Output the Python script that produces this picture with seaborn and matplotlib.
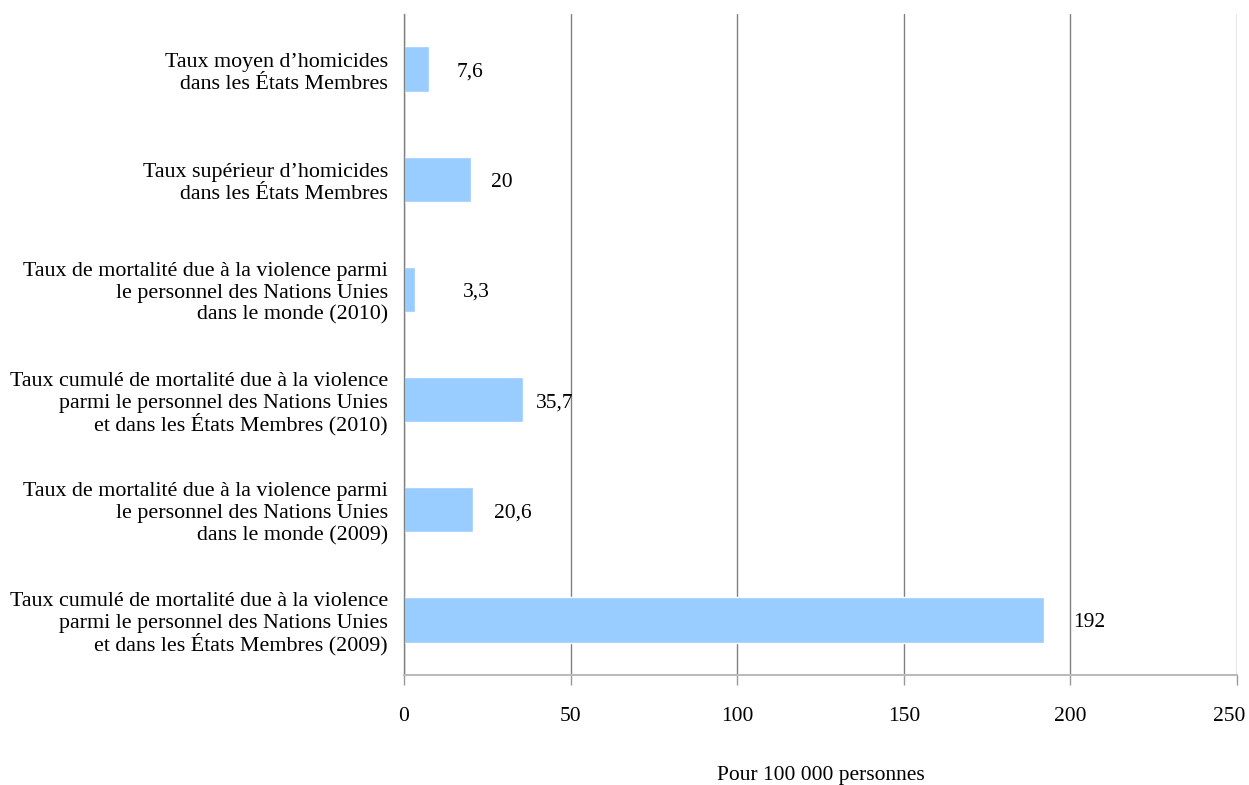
import matplotlib
matplotlib.use("Agg")
import matplotlib.pyplot as plt
import seaborn as sns
import pandas as pd
from matplotlib.transforms import offset_copy, ScaledTranslation

categories = [
    "Taux moyen d\u2019homicides\ndans les \u00c9tats Membres",
    "Taux sup\u00e9rieur d\u2019homicides\ndans les \u00c9tats Membres",
    "Taux de mortalit\u00e9 due \u00e0 la violence parmi\nle personnel des Nations Unies\ndans le monde (2010)",
    "Taux cumul\u00e9 de mortalit\u00e9 due \u00e0 la violence\nparmi le personnel des Nations Unies\net dans les \u00c9tats Membres (2010)",
    "Taux de mortalit\u00e9 due \u00e0 la violence parmi\nle personnel des Nations Unies\ndans le monde (2009)",
    "Taux cumul\u00e9 de mortalit\u00e9 due \u00e0 la violence\nparmi le personnel des Nations Unies\net dans les \u00c9tats Membres (2009)",
]
values = [7.6, 20, 3.3, 35.7, 20.6, 192]
value_labels = ["7,6", "20", "3,3", "35,7", "20,6", "192"]
x_ticks = [0, 50, 100, 150, 200, 250]
x_title = "Pour 100 000 personnes"

label_offsets_px = [27, 20, 48, 13, 21, 29]

sns.set_theme(style="white")
plt.rcParams["font.family"] = ["Liberation Serif", "DejaVu Serif"]
plt.rcParams["text.color"] = "black"
plt.rcParams["xtick.color"] = "black"
plt.rcParams["ytick.color"] = "black"
plt.rcParams["axes.labelcolor"] = "black"

FS = 15.5
PX = 0.72  # points per pixel at dpi 100

df = pd.DataFrame({"cat": categories, "val": values})

fig = plt.figure(figsize=(12.49, 7.85), dpi=100)
ax = fig.add_axes([404 / 1249, 1 - 675 / 785, (1237 - 404) / 1249, (675 - 14) / 785])

sns.barplot(data=df, y="cat", x="val", color="#99CCFF", saturation=1,
            width=0.41, ax=ax, orient="h")

ax.set_xlim(0, 250)
ax.set_ylim(5.5, -0.5)
ax.set_xticks(x_ticks)
ax.set_xticklabels([str(t) for t in x_ticks], fontsize=FS)
ax.xaxis.grid(True, color="#808080", linewidth=1)
ax.set_axisbelow(True)
ax.set_xlabel(x_title, fontsize=FS, labelpad=29)
ax.set_ylabel("")
ax.set_yticklabels([])
ax.tick_params(axis="y", length=0)
ax.tick_params(axis="x", length=7, width=1, color="#999999", pad=16, bottom=True)

# category labels, drawn line by line for even line spacing, right-aligned
for i, cat in enumerate(categories):
    lines = cat.split("\n")
    n = len(lines)
    for j, line in enumerate(lines):
        dy_px = 8.5 + (j - (n - 1) / 2) * 22
        tr = offset_copy(ax.get_yaxis_transform(), fig=fig, x=-16 * PX, y=-dy_px * PX, units="points")
        ax.text(0, i, line, transform=tr, ha="right", va="baseline",
                fontsize=15.8, color="black")

# nudge the last tick label left so it fits inside the figure
last = ax.get_xticklabels()[-1]
last.set_transform(last.get_transform() + ScaledTranslation(-8 / 100, 0, fig.dpi_scale_trans))

for s in ["top", "right"]:
    ax.spines[s].set_visible(False)
ax.spines["left"].set_color("#808080")
ax.spines["left"].set_linewidth(1)
ax.spines["bottom"].set_color("#bbbbbb")
ax.spines["bottom"].set_linewidth(1.5)

for i, (v, t) in enumerate(zip(values, value_labels)):
    tr = offset_copy(ax.transData, fig=fig, x=label_offsets_px[i] * PX,
                     y=-3 * PX, units="points")
    ax.text(v, i, t, transform=tr, ha="left", va="center", fontsize=FS, color="black")

fig.savefig("out.png", dpi=100)
